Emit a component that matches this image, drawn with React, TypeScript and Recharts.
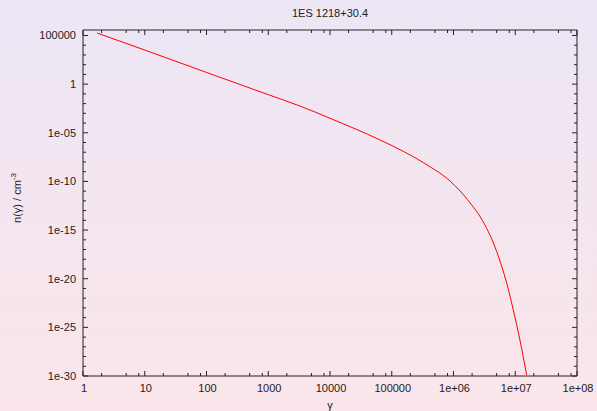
import React from 'react';
import { LineChart, Line, XAxis, YAxis } from 'recharts';

// Lorentz factor values
const gammaValues = [1.69, 10, 100, 1000, 3270, 10000, 65000, 164000, 417000, 7.8e5, 1.44e6, 1.97e6, 2.7e6, 5.0e6, 7.28e6, 9.29e6, 1.19e7, 1.53e7];
// Electron density n(gamma) / cm^-3
const densityValues = [1.8e5, 3.2e3, 16, 0.083, 5.6e-3, 3.1e-4, 1.8e-6, 1.0e-7, 3.2e-9, 2.1e-10, 4.5e-12, 3.8e-13, 2.4e-14, 6.3e-18, 3.4e-21, 6.2e-24, 5e-27, 1.26e-30];

const xMajorTicks = [1, 10, 100, 1000, 1e4, 1e5, 1e6, 1e7, 1e8];
const xTickLabels = ['1', '10', '100', '1000', '10000', '100000', '1e+06', '1e+07', '1e+08'];
const xMinorMultipliers = [2, 5, 8];

const yMajorTicks = [1e-30, 1e-25, 1e-20, 1e-15, 1e-10, 1e-5, 1, 1e5];
const yTickLabels = ['1e-30', '1e-25', '1e-20', '1e-15', '1e-10', '1e-05', '1', '100000'];

const title = '1ES 1218+30.4';

const data = gammaValues.map((g, i) => ({ x: g, y: densityValues[i] }));

const xTicks: number[] = [];
xMajorTicks.forEach((t, i) => {
  xTicks.push(t);
  if (i < xMajorTicks.length - 1) xMinorMultipliers.forEach((m) => xTicks.push(t * m));
});
const yTicks: number[] = [];
for (let e = -30; e <= 5; e++) yTicks.push(Math.pow(10, e));

const TEXT = '#222';
const FONT = '"Liberation Sans", Arial, sans-serif';
const MAJ = 5;
const MIN = 3;

const xLabelFor = (v: number) => {
  const idx = xMajorTicks.findIndex((t) => Math.abs(Math.log10(t) - Math.log10(v)) < 1e-6);
  return idx >= 0 ? xTickLabels[idx] : null;
};
const yLabelFor = (v: number) => {
  const idx = yMajorTicks.findIndex((t) => Math.abs(Math.log10(t) - Math.log10(v)) < 1e-6);
  return idx >= 0 ? yTickLabels[idx] : null;
};

const BottomTick = (props: any) => {
  const { x, y, payload } = props;
  const lab = xLabelFor(payload.value);
  return (
    <g>
      <line x1={x} x2={x} y1={y} y2={y - (lab ? MAJ : MIN)} stroke={TEXT} strokeWidth={1} />
      {lab && (
        <text x={x + 1} y={y + 16} textAnchor="middle" fill={TEXT} fontSize={11} fontFamily={FONT}>
          {lab}
        </text>
      )}
    </g>
  );
};
const TopTick = (props: any) => {
  const { x, y, payload } = props;
  const lab = xLabelFor(payload.value);
  return <line x1={x} x2={x} y1={y} y2={y + (lab ? MAJ : MIN)} stroke={TEXT} strokeWidth={1} />;
};
const LeftTick = (props: any) => {
  const { x, y, payload } = props;
  const lab = yLabelFor(payload.value);
  return (
    <g>
      <line x1={x} x2={x + (lab ? MAJ : MIN)} y1={y} y2={y} stroke={TEXT} strokeWidth={1} />
      {lab && (
        <text x={x - 7} y={y + 4} textAnchor="end" fill={TEXT} fontSize={11} fontFamily={FONT}>
          {lab}
        </text>
      )}
    </g>
  );
};
const RightTick = (props: any) => {
  const { x, y, payload } = props;
  const lab = yLabelFor(payload.value);
  return <line x1={x} x2={x - (lab ? MAJ : MIN)} y1={y} y2={y} stroke={TEXT} strokeWidth={1} />;
};

export default function App() {
  return (
    <div
      style={{
        position: 'absolute',
        left: 0,
        top: 0,
        width: 597,
        height: 411,
        background: 'linear-gradient(to bottom, #ece6f5, #fbe5ea)',
        fontFamily: FONT,
        color: TEXT,
      }}
    >
      <LineChart width={597} height={411} data={data} margin={{ top: 0, right: 0, bottom: 0, left: 0 }}>
        <XAxis
          dataKey="x"
          type="number"
          scale="log"
          domain={[1, 1e8]}
          ticks={xTicks}
          interval={0}
          height={35}
          tickSize={0}
          tickMargin={0}
          tick={<BottomTick />}
          axisLine={{ stroke: TEXT, strokeWidth: 1 }}
          tickLine={false}
          allowDataOverflow
        />
        <XAxis
          xAxisId="top"
          orientation="top"
          dataKey="x"
          type="number"
          scale="log"
          domain={[1, 1e8]}
          ticks={xTicks}
          interval={0}
          height={30}
          tickSize={0}
          tickMargin={0}
          tick={<TopTick />}
          axisLine={{ stroke: TEXT, strokeWidth: 1 }}
          tickLine={false}
          allowDataOverflow
        />
        <YAxis
          type="number"
          scale="log"
          domain={[1e-30, 3.67e5]}
          ticks={yTicks}
          interval={0}
          width={83}
          tickSize={0}
          tickMargin={0}
          tick={<LeftTick />}
          axisLine={{ stroke: TEXT, strokeWidth: 1 }}
          tickLine={false}
          allowDataOverflow
        />
        <YAxis
          yAxisId="right"
          orientation="right"
          type="number"
          scale="log"
          domain={[1e-30, 3.67e5]}
          ticks={yTicks}
          interval={0}
          width={20}
          tickSize={0}
          tickMargin={0}
          tick={<RightTick />}
          axisLine={{ stroke: TEXT, strokeWidth: 1 }}
          tickLine={false}
          allowDataOverflow
        />
        <Line
          dataKey="y"
          type="monotone"
          stroke="#ff0000"
          strokeWidth={1}
          dot={false}
          activeDot={false}
          isAnimationActive={false}
        />
      </LineChart>
      <div
        style={{
          position: 'absolute',
          left: 330,
          top: 13,
          transform: 'translate(-50%, -50%)',
          fontSize: 11,
          whiteSpace: 'nowrap',
        }}
      >
        {title}
      </div>
      <div
        style={{
          position: 'absolute',
          left: 330,
          top: 405,
          transform: 'translate(-50%, -50%)',
          fontSize: 11,
          whiteSpace: 'nowrap',
        }}
      >
        γ
      </div>
      <div
        style={{
          position: 'absolute',
          left: 16,
          top: 198,
          transform: 'translate(-50%, -50%) rotate(-90deg)',
          fontSize: 11,
          whiteSpace: 'nowrap',
        }}
      >
        n(γ) / cm<sup style={{ fontSize: 8, verticalAlign: 'super' }}>-3</sup>
      </div>
    </div>
  );
}
